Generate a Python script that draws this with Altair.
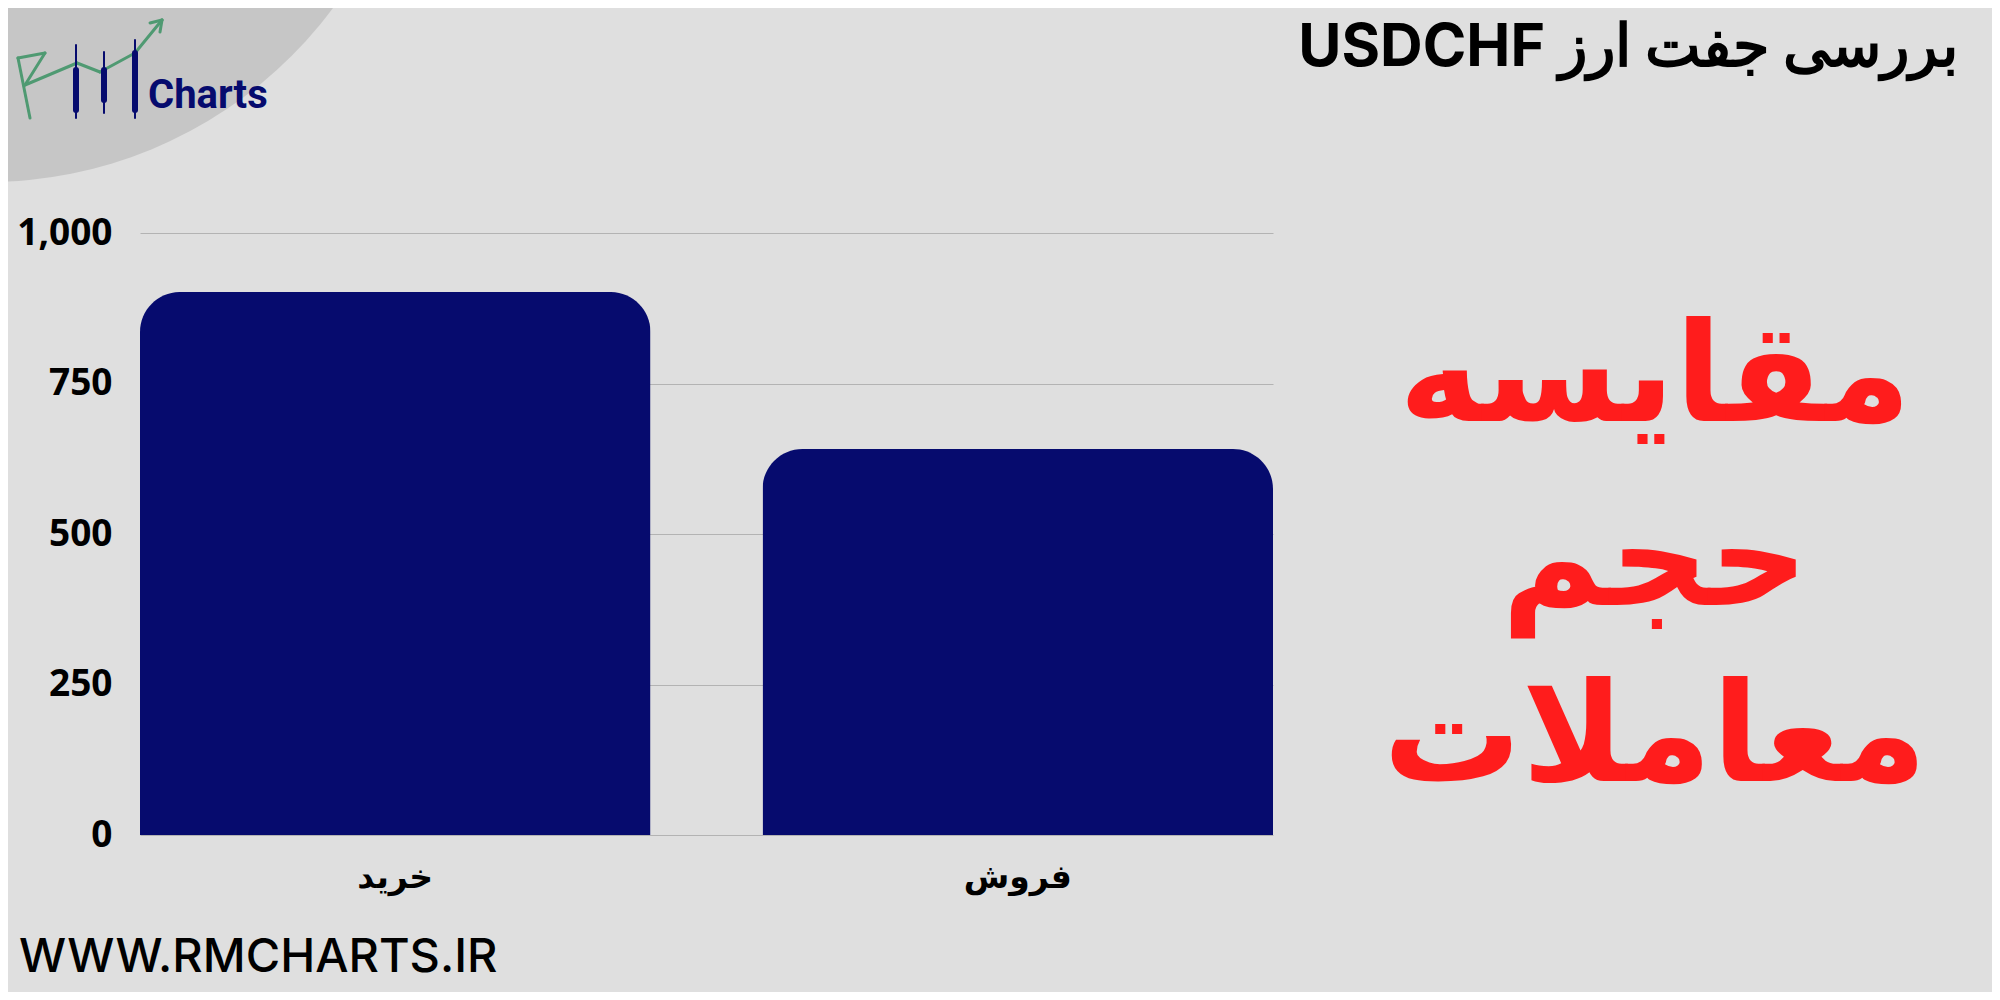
import altair as alt
import pandas as pd

# ---- data ----
categories = ["خرید", "فروش"]
volumes = [902, 641]
y_ticks = [0, 250, 500, 750, 1000]

title_text = "\u202Bبررسی جفت ارز USDCHF\u202C"
side_lines = ["مقایسه", "حجم", "معاملات"]
site_text = "WWW.RMCHARTS.IR"
logo_text = "Charts"

df = pd.DataFrame({"side": categories, "volume": volumes})
one = pd.DataFrame({"k": [0]})

W, H = 1133, 602
NAVY = "#060b6e"
GREEN = "#4f9a72"

bars = alt.Chart(df).mark_bar(
    color=NAVY, cornerRadiusTopLeft=40, cornerRadiusTopRight=40
).encode(
    x=alt.X("side:N", sort=categories, title=None,
            scale=alt.Scale(paddingInner=0.18, paddingOuter=0),
            axis=alt.Axis(labelAngle=0, labelFont="DejaVu Sans", labelFontSize=33,
                          labelFontWeight="bold", labelColor="#000", labelPadding=26,
                          ticks=False, domain=False, grid=False)),
    y=alt.Y("volume:Q", title=None,
            scale=alt.Scale(domain=[0, 1000], nice=False),
            axis=alt.Axis(values=y_ticks, format=",d", labelFont="Open Sans",
                          labelFontSize=37, labelFontWeight="bold", labelColor="#000",
                          labelPadding=28, ticks=False, domain=False,
                          gridColor="#b3b3b3", gridWidth=1.2)),
)


def text_layer(txt, x, y, **kw):
    d = pd.DataFrame({"t": [txt]})
    return alt.Chart(d).mark_text(**kw).encode(
        text="t:N", x=alt.value(x), y=alt.value(y))


def seg(x1, y1, x2, y2, color, width):
    return alt.Chart(one).mark_rule(color=color, strokeWidth=width, strokeCap="round").encode(
        x=alt.value(x1), y=alt.value(y1), x2=alt.value(x2), y2=alt.value(y2))


# logo background circle (plot coords: image coords minus (140, 233))
circle = alt.Chart(one).mark_circle(color="#c6c6c6", opacity=1, size=743000).encode(
    x=alt.value(-153), y=alt.value(-482))

logo = [
    # green arrow
    seg(-110, -115, -122, -175, GREEN, 3),
    seg(-122, -175, -95, -180, GREEN, 3),
    seg(-95, -180, -115, -148, GREEN, 3),
    seg(-115, -148, -63, -170, GREEN, 3),
    seg(-63, -170, -40, -161, GREEN, 3),
    seg(-40, -161, -5, -180, GREEN, 3),
    seg(-5, -180, 22, -213, GREEN, 3),
    seg(22, -213, 10, -210, GREEN, 3),
    seg(22, -213, 20, -201, GREEN, 3),
    # candles
    seg(-64, -188, -64, -115, NAVY, 2),
    seg(-64, -163, -64, -123, NAVY, 6),
    seg(-36, -181, -36, -120, NAVY, 2),
    seg(-36, -163, -36, -133, NAVY, 6),
    seg(-5, -193, -5, -115, NAVY, 2),
    seg(-5, -180, -5, -123, NAVY, 6),
    text_layer(logo_text, 8, -125, font="Roboto", fontSize=40, fontWeight="bold",
               color=NAVY, align="left", baseline="alphabetic"),
]

title = text_layer(title_text, 1818, -167, font="Inter", fontSize=59, fontWeight="bold",
                   color="#000", align="right", baseline="alphabetic")
site = text_layer(site_text, -121, 739, font="Inter", fontSize=47, fontWeight=500,
                  color="#000", align="left", baseline="alphabetic")

side_y = [188, 372, 548]
side = [text_layer(s, 1515, y, font="DejaVu Sans", fontSize=138, fontWeight="bold",
                   color="#ff1c1c", align="center", baseline="alphabetic")
        for s, y in zip(side_lines, side_y)]

chart = alt.layer(circle, *logo, bars, title, site, *side).properties(
    width=W, height=H,
    autosize=alt.AutoSizeParams(type="none"),
    padding={"left": 132, "top": 225, "right": 719, "bottom": 157},
).configure(background="#dfdfdf").configure_view(stroke=None)

chart.save("out.html", embed_options={"renderer": "svg", "actions": False})
